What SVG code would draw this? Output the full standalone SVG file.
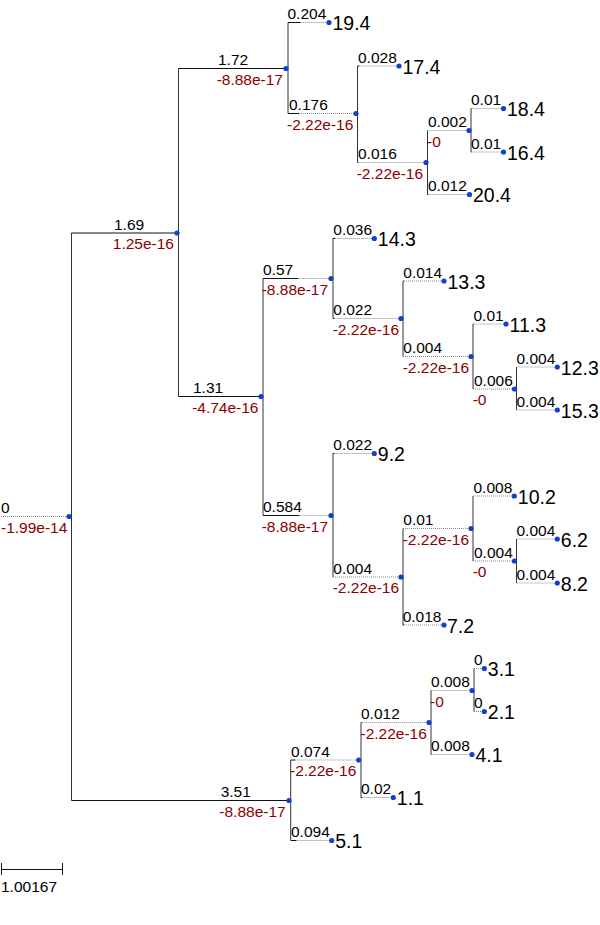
<svg xmlns="http://www.w3.org/2000/svg" width="600" height="925" viewBox="0 0 600 925">
<style>
.s{stroke:#111;stroke-width:1;fill:none}
.v{stroke:#333;stroke-width:1;fill:none}
.d{stroke:#8a8a8a;stroke-width:1;stroke-dasharray:1 1;fill:none}
.dot{fill:#1040d0}
text{font-family:"Liberation Sans",Arial,sans-serif}
.b{font-size:15.5px;fill:#000}
.r{font-size:15.5px;fill:#8b0000}
.re{font-size:15.5px;fill:#8b0000;text-anchor:end}
.l{font-size:19.5px;fill:#000}
</style>
<rect width="600" height="925" fill="#fff"/>
<g id="connectors">
<!-- verticals -->
<path class="v" d="M71.5 233V800.5M178.5 68.5V396.5M288 22.5V113.5M357.5 66V162.5M427.5 130.5V194.5M471 108.5V152M263 278.5V515.5M333 238.5V318.5M403 281V356.5M473 324V389M516.5 367V410M333 453.5V577M403 528.5V625M473 496V561M516.5 539V583M290.7 760V840.5M361 722.5V797.5M431 690.5V754.5M474 668.5V711.5"/>
<!-- solid horizontal parts -->
<path class="s" d="M71.5 233H177M178.5 68.5H286M178.5 396.5H261M71.5 800.5H289M288 113.5H299M288 22.5H300.7M357.5 66H359.3M357.5 162.5H358.5M427.5 194.5H428.3M471 108.5H471.6M471 152H471.6M263 278.5H298.6M263 515.5H299.5M333 238.5H335.3M333 318.5H334.4M403 281H403.9M333 453.5H334.4M403 625H404.1M290.7 760H295.3M290.7 840.5H296.6M361 722.5H361.8M361 797.5H362.3M431 690.5H431.5M431 754.5H431.5M473 324H473.6"/>
<!-- dotted extensions -->
<path class="d" d="M1 516.5H69M299 113.5H356M300.7 22.5H329M359.3 66H399M358.5 162.5H426M427.5 130.5H469M428.3 194.5H469.5M471.6 108.5H503.5M471.6 152H503.5M298.6 278.5H331M299.5 515.5H331M335.3 238.5H374.3M334.4 318.5H401M403.9 281H444M403 356.5H471M473.6 324H506M473 389H514.5M516.5 367H557.3M516.5 410H557.3M334.4 453.5H374.3M333 577H401M403 528.5H471M404.1 625H444M473 496H514.3M473 561H514.5M516.5 539H557.3M516.5 583H557.3M295.3 760H358.7M296.6 840.5H331.7M361.8 722.5H429M362.3 797.5H393.3M431.5 690.5H472M431.5 754.5H472M474 668.5H484.3M474 711.5H484.3"/>
</g>
<g id="root"><circle class="dot" cx="69" cy="516.5" r="2.6"/><text class="b" x="1" y="512.5">0</text><text class="r" x="1" y="532.5">-1.99e-14</text></g>
<g id="nA"><circle class="dot" cx="177" cy="233" r="2.6"/><text class="b" x="114" y="229.5">1.69</text><text class="re" x="174" y="249">1.25e-16</text></g>
<g id="nB"><circle class="dot" cx="286" cy="68.5" r="2.6"/><text class="b" x="218" y="65">1.72</text><text class="re" x="283" y="84.5">-8.88e-17</text></g>
<g id="nC"><circle class="dot" cx="261" cy="396.5" r="2.6"/><text class="b" x="193" y="393">1.31</text><text class="re" x="258.5" y="412.5">-4.74e-16</text></g>
<g id="nZ"><circle class="dot" cx="289" cy="800.5" r="2.6"/><text class="b" x="220.7" y="797">3.51</text><text class="re" x="285.7" y="816.5">-8.88e-17</text></g>
<g id="nD"><circle class="dot" cx="356" cy="113.5" r="2.6"/><text class="b" x="289" y="110">0.176</text><text class="r" x="287" y="129.5">-2.22e-16</text></g>
<g id="nE"><circle class="dot" cx="426" cy="162.5" r="2.6"/><text class="b" x="358" y="159">0.016</text><text class="r" x="356.7" y="178.5">-2.22e-16</text></g>
<g id="nF"><circle class="dot" cx="469" cy="130.5" r="2.6"/><text class="b" x="428" y="127">0.002</text><text class="r" x="427" y="146.5">-0</text></g>
<g id="nG"><circle class="dot" cx="331" cy="278.5" r="2.6"/><text class="b" x="263" y="275">0.57</text><text class="r" x="261.7" y="294.5">-8.88e-17</text></g>
<g id="nH"><circle class="dot" cx="331" cy="515.5" r="2.6"/><text class="b" x="263" y="512">0.584</text><text class="r" x="261.7" y="531.5">-8.88e-17</text></g>
<g id="nI"><circle class="dot" cx="401" cy="318.5" r="2.6"/><text class="b" x="333.3" y="315">0.022</text><text class="r" x="332.7" y="334.5">-2.22e-16</text></g>
<g id="nJ"><circle class="dot" cx="471" cy="356.5" r="2.6"/><text class="b" x="403.3" y="353">0.004</text><text class="r" x="402.7" y="372.5">-2.22e-16</text></g>
<g id="nK"><circle class="dot" cx="514.5" cy="389" r="2.6"/><text class="b" x="474" y="385.5">0.006</text><text class="r" x="472.7" y="405">-0</text></g>
<g id="nL"><circle class="dot" cx="401" cy="577" r="2.6"/><text class="b" x="333.3" y="573.5">0.004</text><text class="r" x="332.7" y="593">-2.22e-16</text></g>
<g id="nM"><circle class="dot" cx="471" cy="528.5" r="2.6"/><text class="b" x="403.3" y="525">0.01</text><text class="r" x="402.7" y="544.5">-2.22e-16</text></g>
<g id="nN"><circle class="dot" cx="514.5" cy="561" r="2.6"/><text class="b" x="474" y="557.5">0.004</text><text class="r" x="472.7" y="577">-0</text></g>
<g id="nO"><circle class="dot" cx="358.7" cy="760" r="2.6"/><text class="b" x="291" y="756.5">0.074</text><text class="r" x="290" y="776">-2.22e-16</text></g>
<g id="nP"><circle class="dot" cx="429" cy="722.5" r="2.6"/><text class="b" x="361" y="719">0.012</text><text class="r" x="360.5" y="738.5">-2.22e-16</text></g>
<g id="nQ"><circle class="dot" cx="472" cy="690.5" r="2.6"/><text class="b" x="431" y="687">0.008</text><text class="r" x="430" y="706.5">-0</text></g>
<g id="leaf-19.4"><circle class="dot" cx="329" cy="22.5" r="2.6"/><text class="b" x="287.5" y="19">0.204</text><text class="l" x="332.5" y="30">19.4</text></g>
<g id="leaf-17.4"><circle class="dot" cx="399" cy="66" r="2.6"/><text class="b" x="358" y="62.5">0.028</text><text class="l" x="402.5" y="73.5">17.4</text></g>
<g id="leaf-18.4"><circle class="dot" cx="503.5" cy="108.5" r="2.6"/><text class="b" x="471" y="105">0.01</text><text class="l" x="507" y="116">18.4</text></g>
<g id="leaf-16.4"><circle class="dot" cx="503.5" cy="152" r="2.6"/><text class="b" x="471" y="148.5">0.01</text><text class="l" x="507" y="159.5">16.4</text></g>
<g id="leaf-20.4"><circle class="dot" cx="469.5" cy="194.5" r="2.6"/><text class="b" x="428" y="191">0.012</text><text class="l" x="473" y="202">20.4</text></g>
<g id="leaf-14.3"><circle class="dot" cx="374.3" cy="238.5" r="2.6"/><text class="b" x="333.3" y="235">0.036</text><text class="l" x="377.8" y="246">14.3</text></g>
<g id="leaf-13.3"><circle class="dot" cx="444" cy="281" r="2.6"/><text class="b" x="403.3" y="277.5">0.014</text><text class="l" x="447.5" y="288.5">13.3</text></g>
<g id="leaf-11.3"><circle class="dot" cx="506" cy="324" r="2.6"/><text class="b" x="473.5" y="320.5">0.01</text><text class="l" x="509.5" y="331.5">11.3</text></g>
<g id="leaf-12.3"><circle class="dot" cx="557.3" cy="367" r="2.6"/><text class="b" x="516.5" y="363.5">0.004</text><text class="l" x="560.8" y="374.5">12.3</text></g>
<g id="leaf-15.3"><circle class="dot" cx="557.3" cy="410" r="2.6"/><text class="b" x="516.5" y="406.5">0.004</text><text class="l" x="560.8" y="417.5">15.3</text></g>
<g id="leaf-9.2"><circle class="dot" cx="374.3" cy="453.5" r="2.6"/><text class="b" x="333.3" y="450">0.022</text><text class="l" x="377.8" y="461">9.2</text></g>
<g id="leaf-10.2"><circle class="dot" cx="514.3" cy="496" r="2.6"/><text class="b" x="473.5" y="492.5">0.008</text><text class="l" x="517.8" y="503.5">10.2</text></g>
<g id="leaf-6.2"><circle class="dot" cx="557.3" cy="539" r="2.6"/><text class="b" x="516.5" y="535.5">0.004</text><text class="l" x="560.8" y="546.5">6.2</text></g>
<g id="leaf-8.2"><circle class="dot" cx="557.3" cy="583" r="2.6"/><text class="b" x="516.5" y="579.5">0.004</text><text class="l" x="560.8" y="590.5">8.2</text></g>
<g id="leaf-7.2"><circle class="dot" cx="444" cy="625" r="2.6"/><text class="b" x="402.7" y="621.5">0.018</text><text class="l" x="447" y="632.5">7.2</text></g>
<g id="leaf-3.1"><circle class="dot" cx="484.3" cy="668.5" r="2.6"/><text class="b" x="474" y="665">0</text><text class="l" x="487.8" y="676">3.1</text></g>
<g id="leaf-2.1"><circle class="dot" cx="484.3" cy="711.5" r="2.6"/><text class="b" x="474" y="708">0</text><text class="l" x="487.8" y="719">2.1</text></g>
<g id="leaf-4.1"><circle class="dot" cx="472" cy="754.5" r="2.6"/><text class="b" x="431" y="751">0.008</text><text class="l" x="475.5" y="762">4.1</text></g>
<g id="leaf-1.1"><circle class="dot" cx="393.3" cy="797.5" r="2.6"/><text class="b" x="361" y="794">0.02</text><text class="l" x="396.8" y="805">1.1</text></g>
<g id="leaf-5.1"><circle class="dot" cx="331.7" cy="840.5" r="2.6"/><text class="b" x="291" y="837">0.094</text><text class="l" x="335.2" y="848">5.1</text></g>
<g id="scale"><path class="s" d="M1.5 869.5H62.5M1.5 863V875M62.5 863V875"/><text class="b" x="1" y="892">1.00167</text></g>
</svg>
